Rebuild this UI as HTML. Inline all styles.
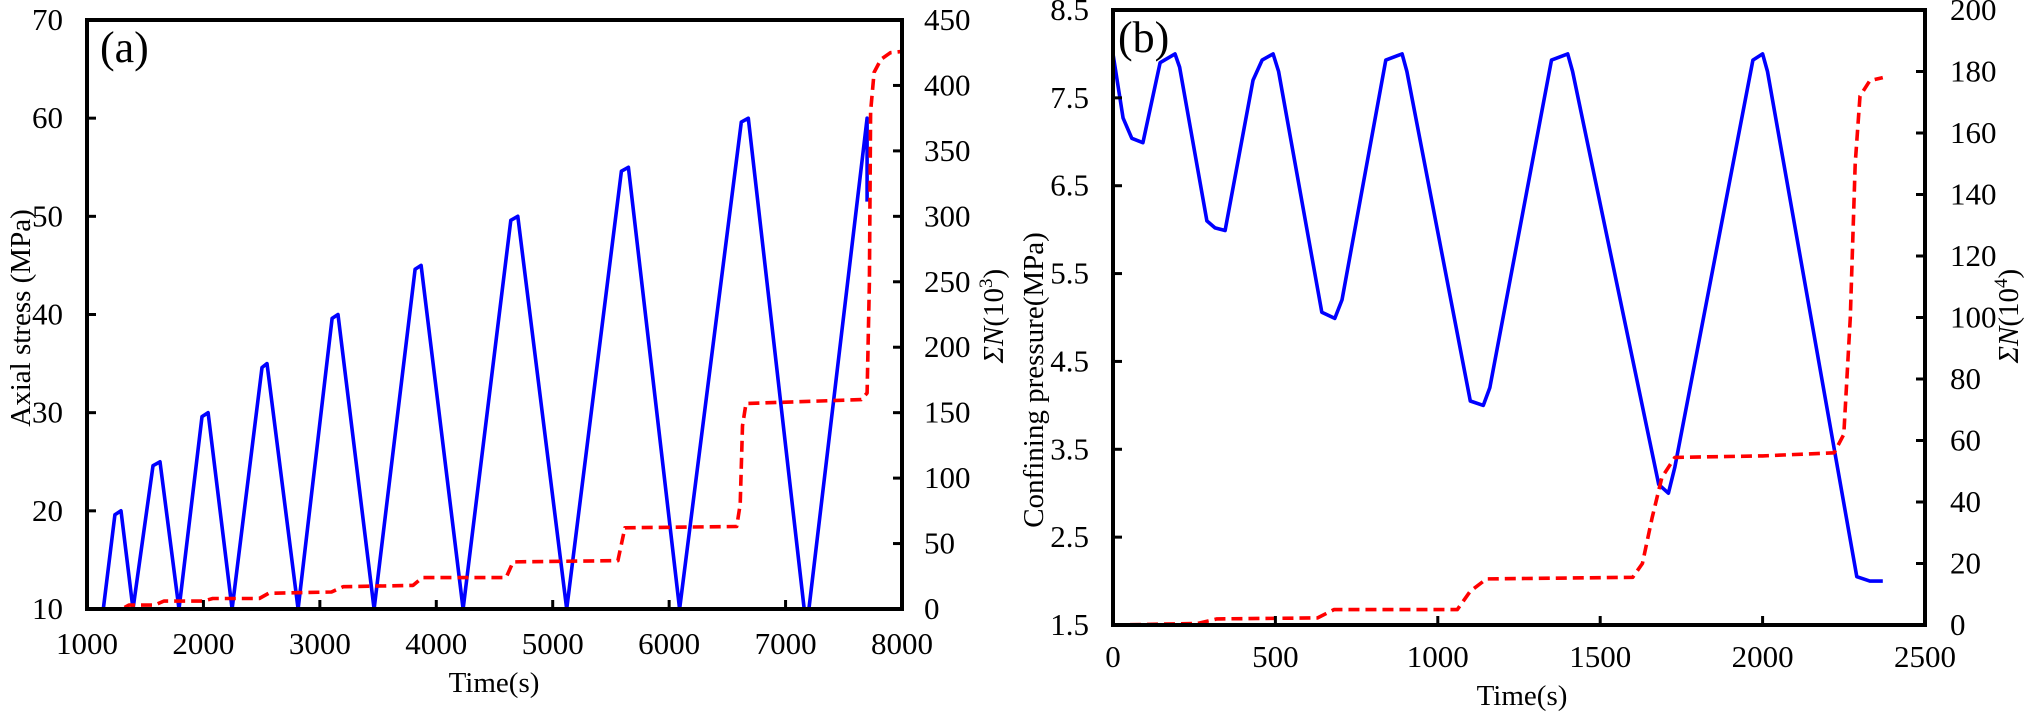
<!DOCTYPE html>
<html><head><meta charset="utf-8">
<style>
html,body{margin:0;padding:0;background:#fff;}
svg{display:block;font-family:"Liberation Serif",serif;}
</style></head>
<body>
<svg id="s" width="2031" height="715" viewBox="0 0 2031 715" xmlns="http://www.w3.org/2000/svg">
<g id="g"></g>
<text x="100" y="62" font-size="44">(a)</text>
<text x="1118" y="52" font-size="44">(b)</text>
<text transform="translate(30,318) rotate(-90)" font-size="29" text-anchor="middle">Axial stress  (MPa)</text>
<text transform="translate(1003,316) rotate(-90)" font-size="29" text-anchor="middle"><tspan font-style="italic">ΣN</tspan>(10<tspan font-size="19" dy="-11">3</tspan><tspan dy="11">)</tspan></text>
<text x="494" y="692" font-size="29" text-anchor="middle">Time(s)</text>
<text transform="translate(1043,380) rotate(-90)" font-size="29" text-anchor="middle">Confining pressure(MPa)</text>
<text transform="translate(2018,316) rotate(-90)" font-size="29" text-anchor="middle"><tspan font-style="italic">ΣN</tspan>(10<tspan font-size="19" dy="-11">4</tspan><tspan dy="11">)</tspan></text>
<text x="1522" y="705" font-size="29" text-anchor="middle">Time(s)</text>
</svg>
<script>
const NS="http://www.w3.org/2000/svg",g=document.getElementById('g');
function el(t,a,txt){const e=document.createElementNS(NS,t);for(const k in a)e.setAttribute(k,a[k]);if(txt!==undefined)e.textContent=txt;g.appendChild(e);return e;}
function line(x1,y1,x2,y2,w){el('line',{x1,y1,x2,y2,stroke:'#000','stroke-width':w||4});}
const AL=87,AR=902,AT=20,AB=609;
const ax=t=>AL+(t-1000)*(AR-AL)/7000, ay=v=>AB-(v-10)*(AB-AT)/60, ay2=v=>AB-v*(AB-AT)/450;
const BL=1113,BR=1925,BT=10,BB=625;
const bx=t=>BL+t*(BR-BL)/2500, by=v=>BB-(v-1.5)*(BB-BT)/7, by2=v=>BB-v*(BB-BT)/200;
function poly(pts,fx,fy,col,dash){el('polyline',{points:pts.map(p=>fx(p[0]).toFixed(1)+','+fy(p[1]).toFixed(1)).join(' '),fill:'none',stroke:col,'stroke-width':3.6,'stroke-linejoin':'round','stroke-dasharray':dash||'none'});}
poly([[1140,10],[1240,19.6],[1292,20],[1395,10],[1567,24.6],[1627,25],[1790,10],[1988,29.6],[2040,30],[2246,10],[2503,34.6],[2546,35],[2813,10],[3105,39.6],[3156,40],[3466,10],[3818,44.6],[3870,45],[4230,10],[4640,49.6],[4700,50],[5120,10],[5590,54.6],[5650,55],[6090,10],[6620,59.6],[6680,60],[7160,10],[7200,10],[7700,60],[7700,51.5]],ax,ay,'#0000ff');
poly([[1180,0],[1300,0],[1360,3],[1580,3],[1660,6],[2000,6],[2080,8],[2480,8],[2560,12],[3100,13],[3200,17],[3800,18],[3880,24],[4600,24],[4660,36],[5560,37],[5620,62],[6580,63],[6610,80],[6630,140],[6660,157],[7650,160],[7700,165],[7720,250],[7730,380],[7760,410],[7820,420],[7900,425],[8000,426]],ax,ay2,'#ff0000','11,6');
poly([[0,8],[31,7.27],[58,7.04],[92,6.99],[145,7.9],[191,8],[205,7.85],[289,6.1],[314,6.02],[345,5.99],[431,7.7],[459,7.93],[493,8],[510,7.8],[643,5.06],[683,4.99],[705,5.2],[840,7.93],[890,8],[905,7.8],[1100,4.05],[1140,4.0],[1160,4.2],[1350,7.93],[1400,8],[1415,7.8],[1680,3.1],[1710,3.0],[1730,3.3],[1970,7.93],[2000,8],[2015,7.8],[2290,2.05],[2330,2.0],[2370,2.0]],bx,by,'#0000ff');
poly([[0,0],[260,0.5],[320,2],[630,2.3],[680,5],[1060,5],[1100,11],[1150,15],[1600,15.5],[1630,20],[1660,35],[1690,48],[1730,54.5],[2000,55],[2220,56],[2250,62],[2270,100],[2285,150],[2300,172],[2330,177],[2370,178]],bx,by2,'#ff0000','11,6');
el('rect',{x:AL,y:AT,width:AR-AL,height:AB-AT,fill:'none',stroke:'#000','stroke-width':4});
el('rect',{x:BL,y:BT,width:BR-BL,height:BB-BT,fill:'none',stroke:'#000','stroke-width':4});
const fs=31;
for(let v=10;v<=70;v+=10){const y=ay(v);line(AL,y,AL+9,y,3);el('text',{x:AL-24,y:y+10,'font-size':fs,'text-anchor':'end'},v);}
for(let v=0;v<=450;v+=50){const y=ay2(v);line(AR-9,y,AR,y,3);el('text',{x:AR+22,y:y+10,'font-size':fs},v);}
for(let t=1000;t<=8000;t+=1000){const x=ax(t);line(x,AB-9,x,AB,3);el('text',{x:x,y:AB+45,'font-size':fs,'text-anchor':'middle'},t);}
for(let i=0;i<=7;i++){const v=1.5+i;const y=by(v);line(BL,y,BL+9,y,3);el('text',{x:BL-24,y:y+10,'font-size':fs,'text-anchor':'end'},v.toFixed(1));}
for(let v=0;v<=200;v+=20){const y=by2(v);line(BR-9,y,BR,y,3);el('text',{x:BR+25,y:y+10,'font-size':fs},v);}
for(let t=0;t<=2500;t+=500){const x=bx(t);line(x,BB-9,x,BB,3);el('text',{x:x,y:BB+42,'font-size':fs,'text-anchor':'middle'},t);}
</script>
</body></html>
